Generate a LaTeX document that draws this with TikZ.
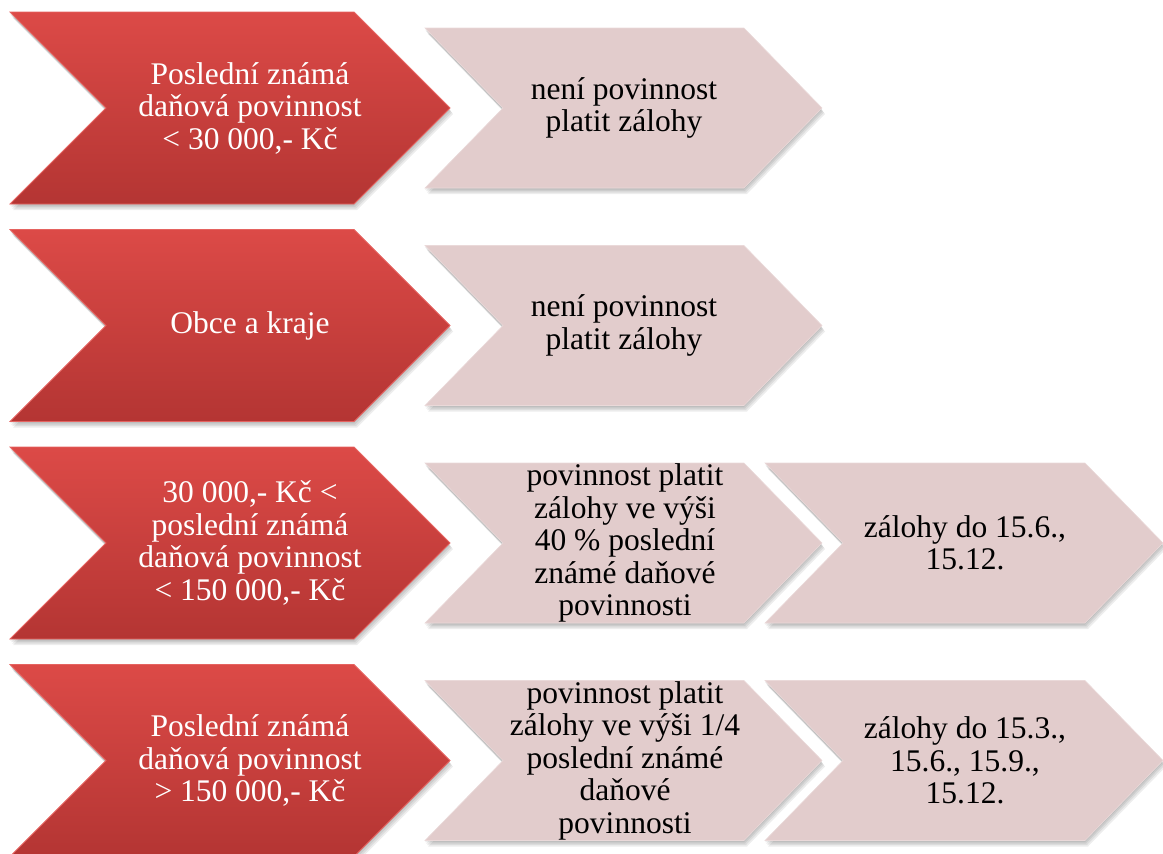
\documentclass[tikz,border=0pt]{standalone}
\usepackage{fontspec}
\setmainfont{Liberation Serif}
\definecolor{redtop}{HTML}{DC4A47}
\definecolor{redmid}{HTML}{D04442}
\definecolor{redbot}{HTML}{B43533}
\definecolor{redrim}{HTML}{E56360}
\definecolor{pinkfill}{HTML}{E2CCCC}
\definecolor{pinkrim}{HTML}{EAD9D9}
\tikzset{
  redchev/.style={top color=redtop, middle color=redmid, bottom color=redbot, draw=redrim, line width=0.8pt},
  pinkchev/.style={fill=pinkfill, draw=pinkrim, line width=0.6pt},
  chevshadow/.style={fill=black, opacity=0.07},
  boxtext/.style={align=center, inner sep=0pt, font=\fontsize{31.5}{32.5}\selectfont},
  redtext/.style={boxtext, text=white},
  pinktext/.style={boxtext, text=black},
}
% style, x, y, w, h, d
\newcommand{\chevoutline}[6]{%
  \path[#1] (#2,#3) -- ++(#4-#6,0) -- ++(#6,#5/2) -- ++(-#6,#5/2) -- ++(-#4+#6,0) -- ++(#6,-#5/2) -- cycle;}
\newcommand{\mychev}[6]{%
  \begin{scope}[shift={(1,3)}]\chevoutline{chevshadow}{#2}{#3}{#4}{#5}{#6}\end{scope}
  \begin{scope}[shift={(2,4.5)}]\chevoutline{chevshadow}{#2}{#3}{#4}{#5}{#6}\end{scope}
  \begin{scope}[shift={(3,6)}]\chevoutline{chevshadow}{#2}{#3}{#4}{#5}{#6}\end{scope}
  \begin{scope}[shift={(0,1.5)}]\chevoutline{chevshadow}{#2}{#3}{#4}{#5}{#6}\end{scope}
  \chevoutline{#1}{#2}{#3}{#4}{#5}{#6}}
\begin{document}
\begin{tikzpicture}[x=1pt,y=-1pt]
\useasboundingbox (0,0) rectangle (1163,854);
% row 1
\mychev{redchev}{10}{12}{440}{192}{96}
\mychev{pinkchev}{425}{28}{397}{160}{78}
\node[redtext] (r1) at (250,108) {Poslední známá\\daňová povinnost\\< 30 000,- Kč};
\node[pinktext] (p1) at (624,108) {není povinnost\\platit zálohy};
% row 2
\mychev{redchev}{10}{229.5}{440}{192}{96}
\mychev{pinkchev}{425}{245.5}{397}{160}{78}
\node[redtext] (r2) at (250,325.5) {Obce a kraje};
\node[pinktext] (p2) at (624,325.5) {není povinnost\\platit zálohy};
% row 3
\mychev{redchev}{10}{447}{440}{192}{96}
\mychev{pinkchev}{765}{463}{398}{160}{78}
\mychev{pinkchev}{425}{463}{397}{160}{78}
\node[redtext] (r3) at (250,543) {30 000,- Kč <\\poslední známá\\daňová povinnost\\< 150 000,- Kč};
\node[pinktext] (p3) at (625,543) {povinnost platit\\zálohy ve výši\\40 \% poslední\\známé daňové\\povinnosti};
\node[pinktext] (q3) at (965,543) {zálohy do 15.6.,\\15.12.};
% row 4
\mychev{redchev}{10}{664.5}{440}{192}{96}
\mychev{pinkchev}{765}{680.5}{398}{160}{78}
\mychev{pinkchev}{425}{680.5}{397}{160}{78}
\node[redtext] (r4) at (250,760.5) {Poslední známá\\daňová povinnost\\> 150 000,- Kč};
\node[pinktext] (p4) at (625,760.5) {povinnost platit\\zálohy ve výši 1/4\\poslední známé\\daňové\\povinnosti};
\node[pinktext] (q4) at (965,760.5) {zálohy do 15.3.,\\15.6., 15.9.,\\15.12.};
\end{tikzpicture}
\end{document}
